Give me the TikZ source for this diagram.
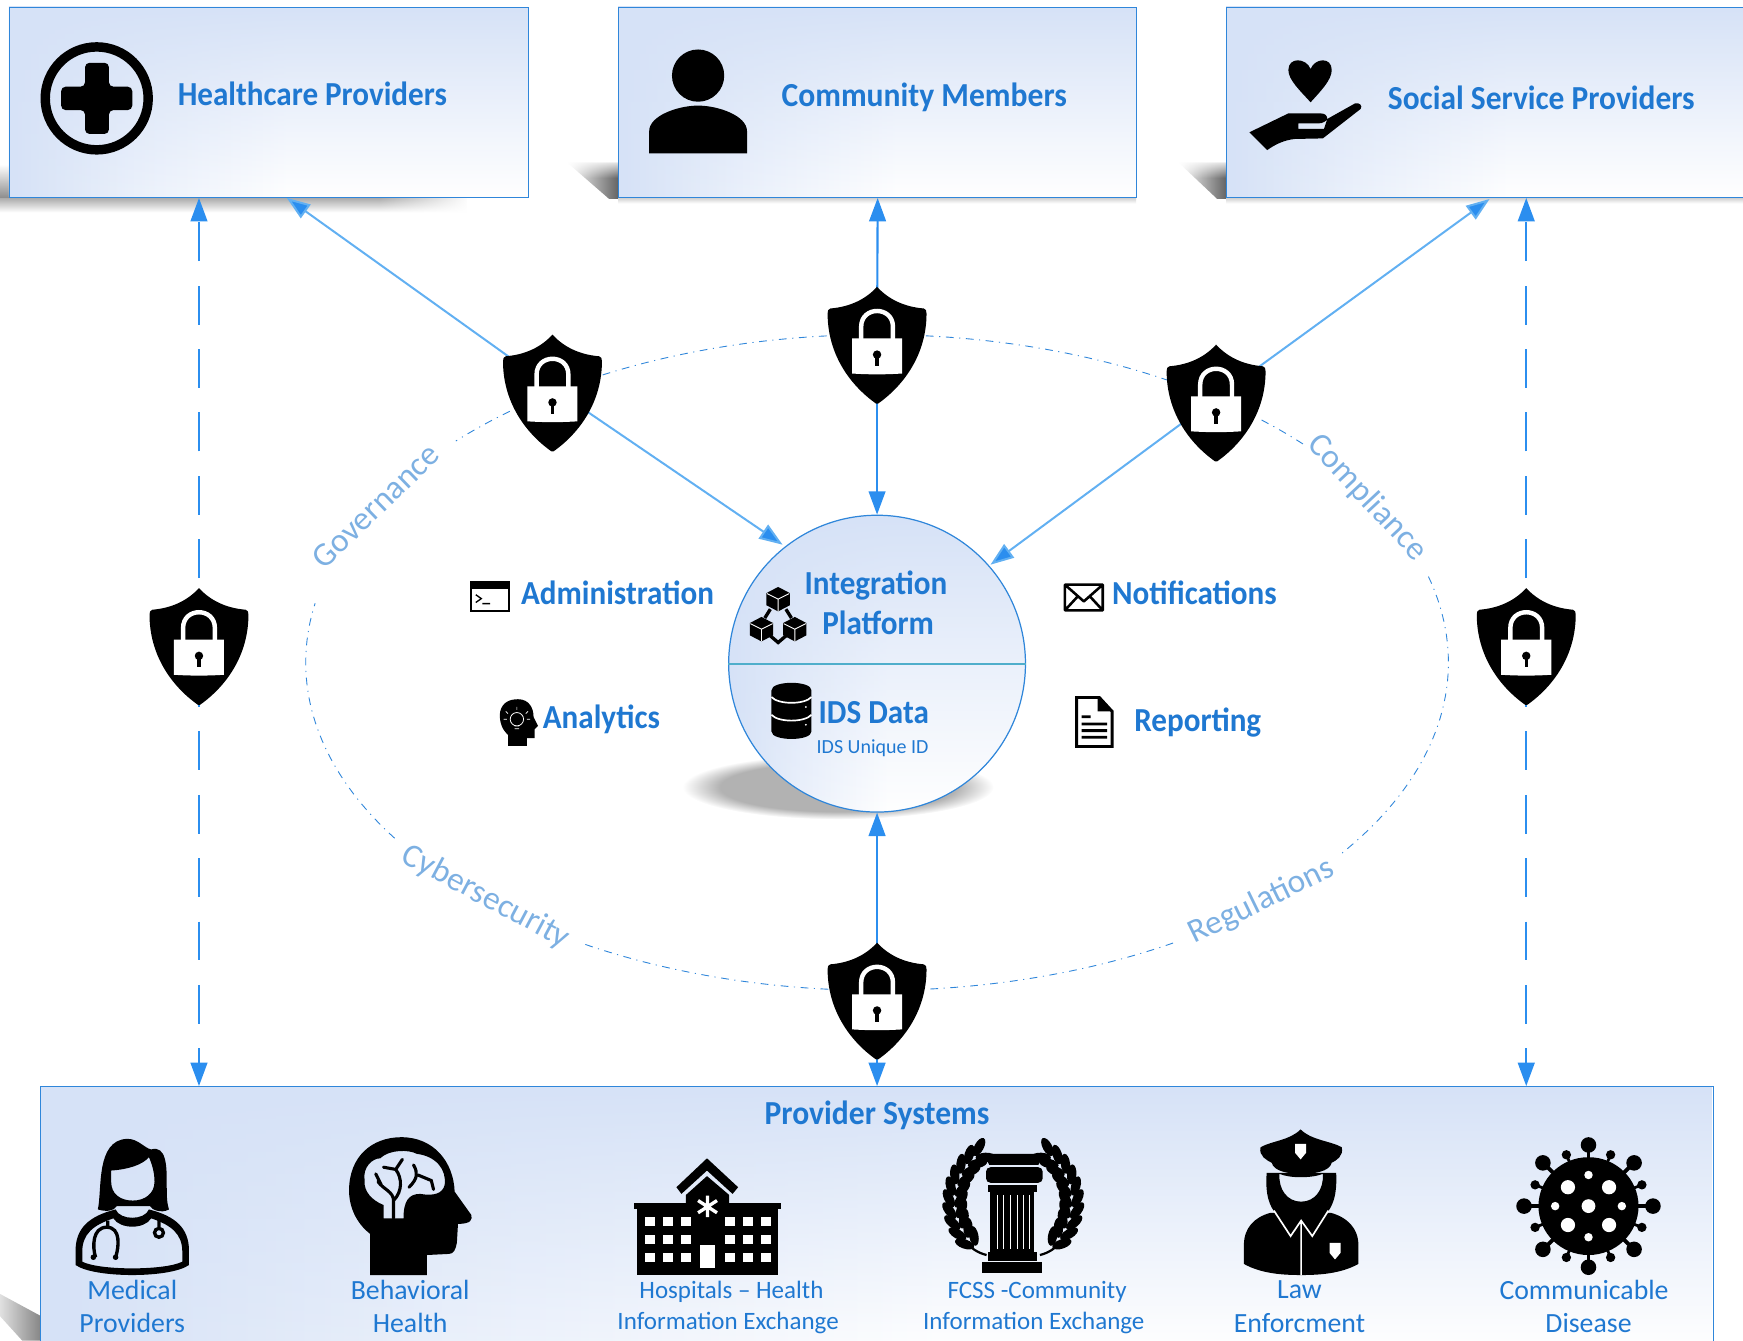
\documentclass[tikz,border=0pt]{standalone}
\usepackage{fontspec}
\setmainfont{Carlito}
\usetikzlibrary{arrows.meta,fadings,shapes.geometric}
\definecolor{gradB}{HTML}{D6E2F7}
\definecolor{edgeB}{HTML}{2F86DA}
\definecolor{flowB}{HTML}{2B8EEF}
\definecolor{diagB}{HTML}{62B0F2}
\definecolor{textB}{HTML}{1F78D1}
\definecolor{softB}{HTML}{7DB0E2}
\definecolor{tealB}{HTML}{4FAECB}
\pgfdeclarehorizontalshading{hfade}{100bp}{color(0bp)=(gradB); color(25bp)=(gradB); color(37bp)=(gradB!50!white); color(52bp)=(white); color(100bp)=(white)}
\pgfdeclareradialshading{shadowrad}{\pgfpoint{0bp}{0bp}}{color(0bp)=(black!30); color(19bp)=(black!30); color(25bp)=(white); color(50bp)=(white)}
\tikzfading[name=vfade, top color=transparent!0, middle color=transparent!92, bottom color=transparent!100]
\tikzfading[name=vfadelong, top color=transparent!0, middle color=transparent!80, bottom color=transparent!100]
\tikzset{
 headtext/.style={text=textB,font=\fontsize{28}{30}\selectfont\bfseries,inner sep=0pt,yscale=1.08,transform shape},
 subtext/.style={text=textB,font=\fontsize{25}{27}\selectfont,inner sep=0pt,align=center},
 smalltext/.style={text=textB,font=\fontsize{22.5}{27}\selectfont,inner sep=0pt,align=center},
 curvetext/.style={text=softB,font=\fontsize{30}{32}\selectfont,inner sep=0pt},
 flow/.style={draw=flowB,line width=1.9pt,-{Triangle[length=21pt,width=15pt,fill=flowB]}},
 diag/.style={draw=diagB,line width=1.8pt,-{Triangle[length=21pt,width=15pt,fill=flowB]}},
 dashflow/.style={flow,dash pattern=on 35pt off 22pt},
 ringline/.style={draw=edgeB,line width=.8pt,dash pattern=on 7pt off 5pt on 1pt off 5pt},
 boxedge/.style={draw=edgeB,line width=1.1pt,inner sep=0pt,rectangle,anchor=north west},
 shieldnode/.style={inner sep=0pt,minimum width=88pt,minimum height=96pt},
 shieldlock/.pic={
  \fill[black] (0,0) .. controls (10,11) and (24,18) .. (42,19.5) .. controls (44,20) and (44.5,21.5) .. (44.5,24)
    .. controls (44.5,60) and (25,88) .. (1,105) -- (-1,105) .. controls (-25,88) and (-44.5,60) .. (-44.5,24)
    .. controls (-44.5,21.5) and (-44,20) .. (-42,19.5) .. controls (-24,18) and (-10,11) .. (0,0) -- cycle;
  \fill[white] (-22.5,46.5) -- (22.5,46.5) -- (22.5,78) .. controls (8,79) and (-8,79) .. (-22.5,78) -- cycle;
  \draw[white,line width=4pt] (-14.3,47) -- (-14.3,36) .. controls (-14.3,17) and (14.3,17) .. (14.3,36) -- (14.3,47);
  \fill[black] (0,61) circle[radius=3.8];
  \fill[black] (-1.5,61) rectangle (1.5,71);
 },
}
\newcommand{\gradbox}[6][vfade]{%
 \shade[shading=hfade] (#3,#4) rectangle (#5,#6);
 \fill[gradB,path fading=#1] (#3,#4) rectangle (#5,#6);
 \pgfmathsetlengthmacro{\bw}{#5-#3}\pgfmathsetlengthmacro{\bh}{#6-#4}
 \node[boxedge,minimum width=\bw,minimum height=\bh] (#2) at (#3,#4) {};
}
\newcommand{\shieldat}[3]{\node[shieldnode] (#1) at (#2,#3+48) {};}
\newcommand{\shielddraw}[3]{\pic at (#2,#3) {shieldlock};}
\newcommand{\cube}[2]{%
 \fill[black] (#1,#2-11) -- (#1+10.5,#2-5.5) -- (#1+10.5,#2+5.5) -- (#1,#2+11) -- (#1-10.5,#2+5.5) -- (#1-10.5,#2-5.5) -- cycle;
 \draw[white,line width=.8pt] (#1-10,#2-5) -- (#1,#2) -- (#1+10,#2-5) (#1,#2) -- (#1,#2+11);
}
\begin{document}
\begin{tikzpicture}[x=1pt,y=-1pt]
\useasboundingbox (0,0) rectangle (1568,1205.46);
\clip (0,0) rectangle (1568,1205.46);
% shadows
\shade[top color=black!38,bottom color=white] (0,176) rectangle (420,191);
\shade[top color=white,bottom color=black!45] (0,148) rectangle (9,178);
\fill[white,path fading=west] (340,175) rectangle (422,194);
\shade[left color=white,right color=black!62] (510,146) -- (557,146) -- (557,179) -- (548,179) -- cycle;
\fill[white,path fading=south] (505,143) rectangle (557,160);
\shade[left color=white,right color=black!62] (1060,146) -- (1104,146) -- (1104,179) -- (1095,179) -- cycle;
\fill[white,path fading=south] (1055,143) rectangle (1104,160);
\shade[top color=black!22,bottom color=white] (556,177) rectangle (1022,183);
\shade[top color=black!22,bottom color=white] (1103,177) rectangle (1568,183);
\shade[shading=shadowrad] (754,708) ellipse[x radius=140,y radius=29];
\shade[left color=black!12,right color=black!48] (0,1164) -- (37,1184) -- (37,1206) -- (20,1206) -- (0,1184) -- cycle;
% ring
\draw[ringline] plot[domain=130:137.5,samples=6] ({789+514*cos(\x)},{596-295*sin(\x)});
\draw[ringline] plot[domain=118.7:94.9,samples=24] ({789+514*cos(\x)},{596-295*sin(\x)});
\draw[ringline] plot[domain=85.1:59.5,samples=24] ({789+514*cos(\x)},{596-295*sin(\x)});
\draw[ringline] plot[domain=47.7:41.3,samples=6] ({789+514*cos(\x)},{596-295*sin(\x)});
\draw[ringline] plot[domain=15.2:-36,samples=40] ({789+514*cos(\x)},{596-295*sin(\x)});
\draw[ringline] plot[domain=-58.8:-85.1,samples=24] ({789+514*cos(\x)},{596-295*sin(\x)});
\draw[ringline] plot[domain=-94.9:-120.9,samples=24] ({789+514*cos(\x)},{596-295*sin(\x)});
\draw[ringline] plot[domain=-147.6:-190.4,samples=40] ({789+514*cos(\x)},{596-295*sin(\x)});
\node[curvetext,rotate=44] (gov) at (338,455) {Governance};
\node[curvetext,rotate=-47] (comp) at (1230,448) {Compliance};
\node[curvetext,rotate=-28] (cyber) at (437,807) {Cybersecurity};
\node[curvetext,rotate=26] (regs) at (1135,811) {Regulations};
% boxes
\gradbox{hc}{8}{6}{475}{177}
\gradbox{cm}{556}{6}{1022}{177}
\gradbox{ss}{1103}{6}{1575}{177}
\gradbox[vfadelong]{ps}{36}{977}{1541}{1215}
% platform circle
\shade[shading=hfade] (789,597) circle[radius=133.5];
\fill[gradB,path fading=vfade] (789,597) circle[radius=133.5];
\node[draw=edgeB,line width=1.1pt,circle,inner sep=0pt,minimum size=267pt] (ip) at (789,597) {};
\draw[tealB,line width=2pt] (ip.west) -- (ip.east);
% shield anchors
\shieldat{sa}{497}{301}
\shieldat{sb}{789}{258}
\shieldat{sc}{1094}{310}
\shieldat{sd}{789}{848}
\shieldat{sl}{179}{529}
\shieldat{sr}{1373}{529}
\coordinate (hcend) at (258,178);
\coordinate (ssend) at (1340,179);
\coordinate (ipa) at (704,490);
\coordinate (ipc) at (891,508);
% connectors
\draw[diag] (sa.center) -- (hcend);
\draw[diag] (sa.center) -- (ipa);
\draw[diag] (sc.center) -- (ssend);
\draw[diag] (sc.center) -- (ipc);
\draw[flow] (sb.center) -- (cm.south);
\draw[flow] (sb.center) -- (ip.north);
\draw[flow] (sd.center) -- (ip.south);
\draw[flow] (sd.center) -- (sd |- ps.north);
\draw[dashflow] (sl.center) -- (sl |- hc.south);
\draw[dashflow] (sr.center) -- (sr |- ss.south);
\draw[dashflow,dash phase=33pt] (sl.center) -- (sl |- ps.north);
\draw[dashflow,dash phase=33pt] (sr.center) -- (sr |- ps.north);
\shielddraw{sa}{497}{301}
\shielddraw{sb}{789}{258}
\shielddraw{sc}{1094}{310}
\shielddraw{sd}{789}{848}
\shielddraw{sl}{179}{529}
\shielddraw{sr}{1373}{529}
% header texts
\node[headtext] (thc) at (281,84.5) {Healthcare Providers};
\node[headtext,xscale=1.015] (tcm) at (831.5,88) {Community Members};
\node[headtext,xscale=1.01] (tss) at (1386.5,88) {Social Service Providers};
\node[headtext,xscale=1.015] (tps) at (789,1003) {Provider Systems};
\node[headtext] (tip1) at (788,527) {Integration};
\node[headtext] (tip2) at (790,560) {Platform};
\node[headtext] (tids) at (786,641) {IDS Data};
\node[text=textB,font=\fontsize{18}{20}\selectfont,inner sep=0pt] (tuid) at (785,673) {IDS Unique ID};
\node[headtext] (tadm) at (555.5,533) {Administration};
\node[headtext] (tnot) at (1074.5,533) {Notifications};
\node[headtext] (tana) at (541,647) {Analytics};
\node[headtext] (trep) at (1077.5,650) {Reporting};
\node[subtext] (l1) at (119,1175) {Medical\\[3pt]Providers};
\node[subtext] (l2) at (369,1175) {Behavioral\\[3pt]Health};
\node[smalltext] (l3a) at (658,1162.5) {Hospitals – Health};
\node[smalltext] (l3b) at (655,1190) {Information Exchange};
\node[smalltext] (l4a) at (933,1162.5) {FCSS -Community};
\node[smalltext] (l4b) at (930,1190) {Information Exchange};
\node[subtext] (l5) at (1169,1175.5) {Law\\[3pt]Enforcment};
\node[subtext] (l6a) at (1425,1160) {Communicable};
\node[subtext] (l6b) at (1429,1190) {Disease};
% --- icons ---
% medical cross
\draw[black,line width=8.5pt] (87,88.5) circle[radius=46.3];
\fill[black,rounded corners=4pt] (76.5,56.5) -- (98,56.5) -- (98,78) -- (119,78) -- (119,99) -- (98,99) -- (98,120.5) -- (76.5,120.5) -- (76.5,99) -- (55,99) -- (55,78) -- (76.5,78) -- cycle;
% person
\fill[black] (628,68) circle[radius=23.5];
\fill[black] (584,138) -- (584,118) .. controls (584,104) and (610,95) .. (628,95) .. controls (646,95) and (672,104) .. (672,118) -- (672,138) -- cycle;
% hand and heart
\fill[black] (1179,92) .. controls (1170,82) and (1159,72) .. (1159,63) .. controls (1159,51) and (1175,52) .. (1179,62) .. controls (1183,52) and (1198,51) .. (1198,63) .. controls (1198,72) and (1188,82) .. (1179,92) -- cycle;
\fill[black,even odd rule] (1124,119) -- (1159,102) -- (1188,102) .. controls (1192,102) and (1194,104) .. (1194,107) -- (1219,93) .. controls (1223,92) and (1226,95) .. (1224,98) -- (1190,124.5) -- (1165,125) .. controls (1155,126) and (1147,130) .. (1140,135) -- cycle
 (1168,111) -- (1186,111) .. controls (1190,111) and (1193,109) .. (1194,107) -- (1191,116) -- (1168,116) -- cycle;
% admin window
\draw[black,line width=1.8pt] (423.5,524) rectangle (457.5,550);
\fill[black] (423,523) rectangle (458,529.5);
\draw[black,line width=1.2pt] (428,535) -- (433,538.5) -- (428,542) (434,543) -- (441,543);
% mail
\draw[black,line width=2.3pt,line join=round] (958,526) rectangle (992,549) (958,526) -- (975,541) -- (992,526) (958,549) -- (970,536) (992,549) -- (980,536);
% head with bulb
\fill[black] (457,671) -- (457,661) .. controls (450,655) and (449,646) .. (450,640) .. controls (452,632) and (458,629) .. (466,629) .. controls (476,629) and (480,637) .. (480,645) -- (484,653) -- (481,656) -- (481,664) -- (474,664) -- (474,671) -- cycle;
\draw[white,line width=.7pt] (465,647) circle[radius=6] (463,653) -- (467,653) (463,655.5) -- (467,655.5);
\draw[white,line width=.6pt] (465,636) -- (465,638.5) (455,640) -- (457,642) (475,640) -- (473,642) (453,647) -- (456,647) (477,647) -- (474,647);
% document
\draw[black,line width=2.6pt,line join=miter,fill=white] (968.5,627.5) -- (989,627.5) -- (1000.5,640) -- (1000.5,671.5) -- (968.5,671.5) -- cycle;
\fill[black] (987.5,627) -- (1001,640) -- (987.5,640) -- cycle;
\fill[black] (973,643.5) rectangle (981,646) (973,650) rectangle (996,652.5) (973,656) rectangle (996,658.5) (973,662) rectangle (996,664.5);
% database
\fill[black] (694,621) .. controls (694,612) and (730,612) .. (730,621) -- (730,658) .. controls (730,667) and (694,667) .. (694,658) -- cycle;
\draw[white,line width=1.5pt] (694,627) .. controls (700,634) and (724,634) .. (730,627) (694,643) .. controls (700,650) and (724,650) .. (730,643);
\fill[white] (725,636) circle[radius=.9] (725,652) circle[radius=.9];
% blocks
\draw[black,line width=3pt] (693,548) -- (688,556) (707,548) -- (712,556) (693,572) -- (700,578) -- (707,572);
\cube{700}{539}
\cube{685}{566}
\cube{715}{566}
% doctor
\fill[black,even odd rule] (88,1088) .. controls (92,1070) and (86,1026) .. (114,1024.5) .. controls (124,1024) and (130,1033) .. (136,1034) .. controls (150,1030) and (150,1050) .. (150,1065) .. controls (150,1075) and (150,1082) .. (152,1088) .. controls (145,1092) and (136,1088) .. (135,1085) -- (105,1085) .. controls (102,1090) and (95,1090) .. (88,1088) -- cycle
 (100,1053) .. controls (115,1052) and (128,1048) .. (134,1041) .. controls (137,1048) and (139,1055) .. (139,1063) .. controls (139,1074) and (130,1080) .. (119.5,1080) .. controls (108,1080) and (100,1074) .. (100,1063) -- cycle;
\fill[black,even odd rule] (104,1088) .. controls (80,1094) and (68,1105) .. (68,1125) -- (68,1138) .. controls (85,1150) and (153,1150) .. (170,1138) -- (170,1125) .. controls (170,1105) and (158,1094) .. (134,1088) .. controls (130,1098) and (108,1098) .. (104,1088) -- cycle
 (102,1096) .. controls (84,1102) and (74,1110) .. (74,1126) -- (74,1135) .. controls (90,1143) and (148,1143) .. (164,1135) -- (164,1126) .. controls (164,1110) and (154,1102) .. (136,1096) .. controls (130,1106) and (108,1106) .. (102,1096) -- cycle;
\draw[black,line width=3pt] (97,1098) -- (97,1103) (86,1131) .. controls (83,1122) and (83,1104) .. (96,1104) .. controls (109,1104) and (107,1122) .. (104,1131) (143,1097) -- (143,1104);
\fill[black] (84,1131) circle[radius=2.5] (104,1131) circle[radius=2.5];
\draw[black,line width=3pt] (143,1109) circle[radius=4];
% brain head
\fill[black,even odd rule] (333,1147) -- (333,1110) .. controls (320,1100) and (314,1085) .. (314,1071) .. controls (314,1040) and (335,1023) .. (361,1023) .. controls (390,1023) and (408,1045) .. (409,1072) -- (424,1093) .. controls (425,1097) and (424,1101) .. (412,1101) -- (411,1118) .. controls (410,1124) and (408,1128) .. (404,1128) -- (384,1129) -- (384,1147) -- cycle
 (345,1096) -- (345,1084) .. controls (335,1080) and (327,1072) .. (328,1062) .. controls (326,1050) and (335,1042) .. (342,1042) .. controls (350,1034) and (368,1034) .. (375,1038) .. controls (392,1040) and (402,1052) .. (400,1066) .. controls (398,1074) and (390,1076) .. (378,1074) .. controls (368,1074) and (363,1080) .. (363,1096) -- cycle;
\draw[black,line width=2.8pt,line cap=round] (354,1096) -- (354,1080) .. controls (354,1072) and (345,1070) .. (340,1063) (354,1080) .. controls (362,1072) and (362,1060) .. (356,1052) (356,1052) -- (345,1050) (356,1052) -- (362,1043) (368,1068) .. controls (376,1060) and (376,1055) .. (372,1048) (376,1057) -- (388,1062) -- (390,1070) (338,1056) -- (343,1066);
% hospital
\fill[black] (636,1042) -- (664,1068) -- (659,1074) -- (636,1053) -- (613,1074) -- (608.5,1068) -- cycle;
\fill[black] (617,1082) -- (617,1075) -- (636,1058) -- (656,1075) -- (656,1082) -- cycle;
\fill[black] (570,1082) rectangle (703,1088);
\fill[black] (573,1088) rectangle (700,1147);
\foreach \wy in {1095,1111,1127}{\foreach \wx in {580,596,612.5,652,668,684.5}{\fill[white] (\wx,\wy) rectangle (\wx+9.5,\wy+8);}}
\fill[white] (630,1120) rectangle (643,1141);
\draw[white,line width=3pt] (636.5,1075.5) -- (636.5,1095) (628,1080) -- (645,1091) (645,1080) -- (628,1091);
% column
\fill[black] (885,1038) -- (939.5,1038) -- (934,1048) -- (890,1048) -- cycle;
\fill[black,rounded corners=4pt] (887,1050) rectangle (938,1064);
\fill[black] (888.5,1066) rectangle (933,1072);
\fill[black] (891,1072) rectangle (930.5,1126);
\foreach \fx in {897,903,909,915,921,926}{\draw[white,line width=.8pt] (\fx,1075) -- (\fx,1124);}
\fill[black] (888.5,1126) rectangle (933,1134);
\fill[black] (883.6,1135) rectangle (937,1145);
\begin{scope}[shift={(911.5,1081)}]
\foreach \sgn in {-1,1}{\begin{scope}[xscale=\sgn]
 \draw[black,line width=2pt] (-44,35) .. controls (-38,42) and (-32,46) .. (-24,48);
 \foreach \a in {122,133,144,155,166,177,188,199,210,221}{
  \fill[black,shift={({47*cos(\a)},{-47*sin(\a)})},rotate=\a+60] (0,0) ellipse[x radius=9,y radius=4.2];
  \fill[black,shift={({58*cos(\a)},{-58*sin(\a)})},rotate=\a-60] (0,0) ellipse[x radius=9,y radius=4.2];
 }
\end{scope}}
\end{scope}
% police
\fill[black,even odd rule] (1139.5,1055) .. controls (1138,1075) and (1142,1085) .. (1148,1092) -- (1193,1092) .. controls (1199,1085) and (1203,1075) .. (1202,1055) -- cycle
 (1151,1056) .. controls (1160,1060) and (1180,1060) .. (1190,1056) .. controls (1191,1070) and (1183,1081) .. (1170.5,1081) .. controls (1158,1081) and (1150,1070) .. (1151,1056) -- cycle;
\fill[black] (1170,1016) .. controls (1160,1026) and (1145,1026) .. (1134,1032) .. controls (1132,1040) and (1140,1044) .. (1144,1046) .. controls (1146,1054) and (1160,1056) .. (1170.5,1056) .. controls (1182,1056) and (1196,1054) .. (1198,1046) .. controls (1202,1044) and (1209,1040) .. (1207,1032) .. controls (1196,1026) and (1180,1026) .. (1170,1016) -- cycle;
\fill[white] (1165,1029) -- (1175,1029) -- (1175,1037) -- (1170,1043) -- (1165,1037) -- cycle;
\fill[black] (1143,1091) .. controls (1128,1095) and (1119,1105) .. (1119,1120) -- (1119,1137) .. controls (1135,1146) and (1155,1147) .. (1170.5,1147) .. controls (1186,1147) and (1206,1146) .. (1222,1137) -- (1222,1120) .. controls (1222,1105) and (1212,1095) .. (1197,1091) -- cycle;
\draw[white,line width=1.5pt] (1146,1089) -- (1161,1112) -- (1170.5,1098) -- (1180.5,1112) -- (1195,1089) (1170.5,1098) -- (1170.5,1147);
\fill[white] (1196,1118) -- (1206,1118) -- (1206,1127) -- (1201,1133) -- (1196,1127) -- cycle;
% virus
\begin{scope}[shift={(1429,1085)}]
\fill[black] (0,0) ellipse[x radius=45,y radius=44];
\foreach \a in {0,45,...,315}{
 \draw[black,line width=3.5pt] (0,0) -- ({57*cos(\a)},{-54*sin(\a)});
 \fill[black] ({58*cos(\a)},{-55*sin(\a)}) circle[radius=7];
}
\foreach \a in {22.5,67.5,...,337.5}{
 \draw[black,line width=2.5pt] (0,0) -- ({52*cos(\a)},{-50*sin(\a)});
 \fill[black] ({52*cos(\a)},{-50*sin(\a)}) circle[radius=4.2];
}
\fill[white] (0,0) circle[radius=6.2] (-18.5,-17) circle[radius=6.4] (18.5,-17) circle[radius=6.4] (-18.5,17) circle[radius=6.4] (18.5,17) circle[radius=6.4] (0,-28) circle[radius=3.8] (0,28) circle[radius=3.8] (-30,0) circle[radius=3.8] (30,0) circle[radius=3.8];
\end{scope}
\end{tikzpicture}
\end{document}
